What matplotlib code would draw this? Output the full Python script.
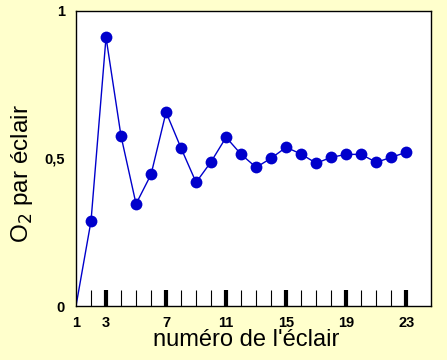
import matplotlib.pyplot as plt
import numpy as np

# --- Données ---
eclairs = list(range(1, 24))
o2 = [0.0, 0.288, 0.911, 0.576, 0.346, 0.446, 0.657, 0.535, 0.419, 0.489,
      0.572, 0.514, 0.470, 0.501, 0.538, 0.515, 0.484, 0.504, 0.514, 0.514,
      0.487, 0.504, 0.521]

ticks_maj = [1, 3, 7, 11, 15, 19, 23]
ticks_min = [n for n in eclairs if n not in ticks_maj]
yticks = [0, 0.5, 1]
ytick_labels = ['0', '0,5', '1']

fond = '#FFFFCC'
bleu = '#0000CC'

plt.rcParams['font.family'] = ['Liberation Sans', 'DejaVu Sans']

fig = plt.figure(figsize=(4.47, 3.6), dpi=100, facecolor=fond)
ax = fig.add_axes([76/447, 54/360, 355/447, 295/360])
ax.set_facecolor('white')

# ligne complète (démarre à 0 pour l'éclair 1), points à partir du 2e éclair
ax.plot(eclairs, o2, '-', color=bleu, linewidth=1)
ax.plot(eclairs[1:], o2[1:], 'o', color=bleu, markersize=8.5, markeredgewidth=0)

ax.set_xlim(1, 24.65)
ax.set_ylim(0, 1)

ax.set_xticks(ticks_maj)
ax.set_xticklabels([str(t) for t in ticks_maj], fontsize=10.5, fontweight='bold')
ax.set_xticks(ticks_min, minor=True)
ax.tick_params(axis='x', which='major', direction='in', length=11.5, width=3, pad=7)
ax.tick_params(axis='x', which='minor', direction='in', length=11.5, width=0.8)
# pas de trait de graduation sur le bord gauche (éclair 1)
ax.xaxis.get_major_ticks()[0].tick1line.set_visible(False)

ax.set_yticks(yticks)
ax.set_yticklabels(ytick_labels, fontsize=10.5, fontweight='bold')
ax.tick_params(axis='y', length=0, pad=8)

for s in ax.spines.values():
    s.set_linewidth(1)
    s.set_color('black')

ax.set_xlabel("numéro de l'éclair", fontsize=17)
ax.xaxis.set_label_coords(0.48, -0.115)
ax.xaxis.label.set_va('center')

ax.set_ylabel('O$_2$ par éclair', fontsize=17.5)
ax.yaxis.set_label_coords(-0.152, 0.447)
ax.yaxis.label.set_va('center')

fig.savefig('out.png', dpi=100, facecolor=fond)
